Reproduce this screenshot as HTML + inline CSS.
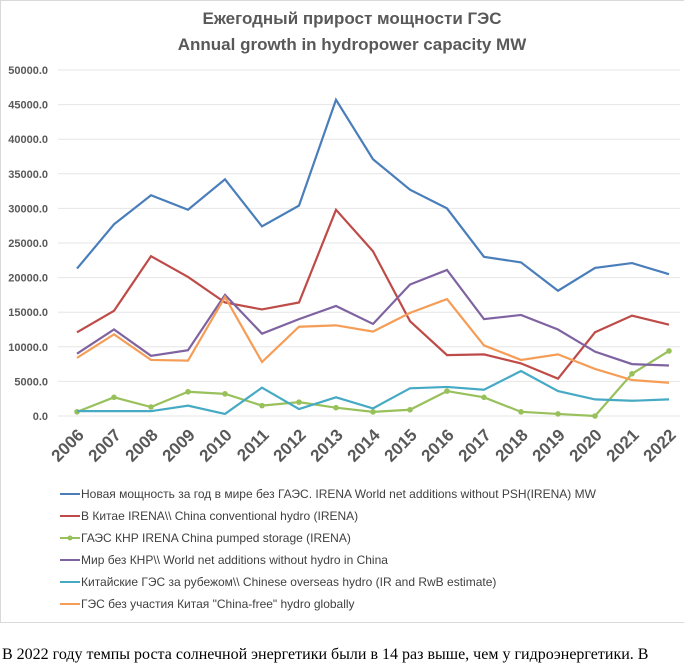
<!DOCTYPE html>
<html><head><meta charset="utf-8"><style>
body{margin:0;background:#fff;width:684px;height:664px;overflow:hidden;font-family:"Liberation Sans",sans-serif}
</style></head><body>
<svg width="684" height="664" style="position:absolute;left:0;top:0">
<rect x="0.5" y="0.5" width="690" height="622" fill="#fff" stroke="#d9d9d9"/>
<text x="352" y="24" text-anchor="middle" font-size="17" font-weight="bold" fill="#595959">Ежегодный прирост мощности ГЭС</text>
<text x="352" y="50" text-anchor="middle" font-size="17" font-weight="bold" fill="#595959">Annual growth in hydropower capacity MW</text>
<g id="grid"></g><g id="ylab"></g><g id="xlab"></g><g id="series"></g><g id="legend"></g>
<text x="2" y="659" font-family="Liberation Serif,serif" font-size="16" fill="#000">В 2022 году темпы роста солнечной энергетики были в 14 раз выше, чем у гидроэнергетики. В</text>
</svg>
<script>
const years=[2006,2007,2008,2009,2010,2011,2012,2013,2014,2015,2016,2017,2018,2019,2020,2021,2022];
const yTicks=[0,5000,10000,15000,20000,25000,30000,35000,40000,45000,50000];
const worldNoPSH=[21300,27700,31900,29800,34200,27400,30400,45700,37100,32700,30000,23000,22200,18100,21400,22100,20500];
const chinaConv=[12100,15200,23100,20100,16400,15400,16400,29800,23800,13700,8800,8900,7600,5400,12100,14500,13200];
const chinaPSH=[600,2700,1300,3500,3200,1500,2000,1200,600,900,3600,2700,600,300,0,6100,9400];
const worldNoChina=[9000,12500,8700,9500,17500,11900,14000,15900,13300,19000,21100,14000,14600,12500,9300,7500,7300];
const chinaOverseas=[700,700,700,1500,300,4100,1000,2700,1100,4000,4200,3800,6500,3600,2400,2200,2400];
const chinaFree=[8400,11800,8100,8000,17200,7800,12900,13100,12200,14900,16900,10200,8100,8900,6800,5200,4800];
const seriesNames=['Новая мощность за год в мире без ГАЭС. IRENA World net additions without PSH(IRENA) MW','В Китае IRENA\\\\ China conventional hydro (IRENA)','ГАЭС КНР IRENA China pumped storage (IRENA)',' Мир без КНР\\\\ World net additions without hydro in China','Китайские ГЭС за рубежом\\\\ Chinese overseas  hydro (IR  and RwB estimate)','ГЭС без участия Китая "China-free" hydro globally'];
const NS='http://www.w3.org/2000/svg';
const x0=77,x1=669,yb=416,yt=70;
const X=i=>x0+(x1-x0)*i/(years.length-1);
const Y=v=>yb-(yb-yt)*v/50000;
function mk(t,a,p){const e=document.createElementNS(NS,t);for(const k in a)e.setAttribute(k,a[k]);p.appendChild(e);return e;}
const g=document.getElementById('grid'),yl=document.getElementById('ylab'),xl=document.getElementById('xlab'),sg=document.getElementById('series'),lg=document.getElementById('legend');
yTicks.forEach(v=>{
 const l=mk('line',{x1:58,x2:680,y1:Y(v),y2:Y(v),stroke:'#e6e6e6','stroke-width':1},g);
 
 
 const t=mk('text',{x:48,y:Y(v)+4,'text-anchor':'end','font-size':11,'font-weight':'bold',fill:'#595959'},yl);
 t.textContent=v.toFixed(1);
 
 
});
years.forEach((yr,i)=>{
 const t=mk('text',{x:X(i)+8,y:436,'text-anchor':'end','font-size':17,'font-weight':'bold',fill:'#595959',transform:`rotate(-45 ${X(i)+8} 436)`},xl);
 t.textContent=yr;
 
 
});
const data=[worldNoPSH,chinaConv,chinaPSH,worldNoChina,chinaOverseas,chinaFree];
const colors=['#4a7ebb','#be4b48','#98c05b','#7f63a1','#46aac5','#f59d56'];
const names=['series-world-no-psh','series-china-conventional','series-china-pumped','series-world-no-china','series-china-overseas','series-china-free'];
data.forEach((d,s)=>{
 const p=mk('polyline',{points:d.map((v,i)=>X(i)+','+Y(v)).join(' '),fill:'none',stroke:colors[s],'stroke-width':2.2},sg);
 
 
 if(s===2)d.forEach((v,i)=>{const c=mk('circle',{cx:X(i),cy:Y(v),r:2.8,fill:colors[s]},sg);
  
  });
 const ly=494+s*22;
 const ll=mk('line',{x1:60,x2:80,y1:ly,y2:ly,stroke:colors[s],'stroke-width':2},lg);
 
 
 if(s===2)mk('circle',{cx:70,cy:ly,r:2.5,fill:colors[s]},lg);
 const t=mk('text',{x:81,y:ly+4,'font-size':12,fill:'#404040'},lg);
 t.textContent=seriesNames[s];
 
 
});
</script>
</body></html>
